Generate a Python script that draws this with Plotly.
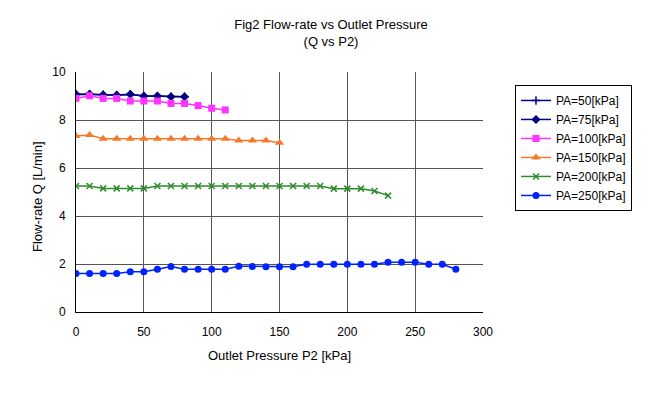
import plotly.graph_objects as go

# ---- data ----
x_pa50 = [0, 10, 20, 30, 40, 50, 60, 70, 80]
q_pa50 = [9.06, 9.07, 9.05, 9.03, 9.06, 9.0, 8.99, 8.97, 8.97]

x_pa75 = [0, 10, 20, 30, 40, 50, 60, 70, 80]
q_pa75 = [9.07, 9.08, 9.05, 9.04, 9.07, 9.0, 9.0, 8.97, 8.97]

x_pa100 = [0, 10, 20, 30, 40, 50, 60, 70, 80, 90, 100, 110]
q_pa100 = [8.9, 9.01, 8.9, 8.9, 8.79, 8.79, 8.79, 8.69, 8.69, 8.6, 8.49, 8.42]

x_pa150 = [0, 10, 20, 30, 40, 50, 60, 70, 80, 90, 100, 110, 120, 130, 140, 150]
q_pa150 = [7.33, 7.37, 7.22, 7.22, 7.22, 7.22, 7.22, 7.22, 7.22, 7.22, 7.22, 7.22,
           7.15, 7.15, 7.15, 7.05]

x_pa200 = [0, 10, 20, 30, 40, 50, 60, 70, 80, 90, 100, 110, 120, 130, 140, 150,
           160, 170, 180, 190, 200, 210, 220, 230]
q_pa200 = [5.25, 5.25, 5.15, 5.15, 5.15, 5.15, 5.25, 5.25, 5.25, 5.25, 5.25, 5.25,
           5.25, 5.25, 5.25, 5.25, 5.25, 5.25, 5.25, 5.14, 5.14, 5.14, 5.04, 4.85]

x_pa250 = [0, 10, 20, 30, 40, 50, 60, 70, 80, 90, 100, 110, 120, 130, 140, 150,
           160, 170, 180, 190, 200, 210, 220, 230, 240, 250, 260, 270, 280]
q_pa250 = [1.6, 1.6, 1.6, 1.6, 1.68, 1.68, 1.78, 1.9, 1.78, 1.78, 1.78, 1.78,
           1.91, 1.9, 1.89, 1.89, 1.89, 1.99, 1.99, 1.99, 1.99, 1.99, 1.99,
           2.07, 2.07, 2.07, 1.99, 1.99, 1.78]

x_ticks = [0, 50, 100, 150, 200, 250, 300]
y_ticks = [0, 2, 4, 6, 8, 10]

series = [
    ("PA=50[kPa]", x_pa50, q_pa50, "#000080", "cross-thin", 6),
    ("PA=75[kPa]", x_pa75, q_pa75, "#000080", "diamond", 7),
    ("PA=100[kPa]", x_pa100, q_pa100, "#FF33FF", "square", 7),
    ("PA=150[kPa]", x_pa150, q_pa150, "#F47A2A", "triangle-up", 8),
    ("PA=200[kPa]", x_pa200, q_pa200, "#2E8B2E", "x-thin", 6),
    ("PA=250[kPa]", x_pa250, q_pa250, "#0022FF", "circle", 7),
]

fig = go.Figure()
for name, xs, ys, col, sym, sz in series:
    fig.add_trace(go.Scatter(
        x=xs, y=ys, name=name, mode="lines+markers",
        line=dict(color=col, width=1.5),
        marker=dict(symbol=sym, size=sz, color=col,
                    line=dict(color=col, width=1.5 if "thin" in sym else 0)),
    ))

font_family = "Liberation Sans, Arial, sans-serif"
fig.update_layout(
    width=646, height=387,
    margin=dict(l=68, r=171, t=64, b=83),
    paper_bgcolor="white", plot_bgcolor="white",
    font=dict(family=font_family, size=12, color="black"),
    showlegend=True,
    title=dict(
        text="Fig2 Flow-rate vs Outlet Pressure<br>(Q vs P2)",
        x=0.5, xref="container", xanchor="center",
        y=1 - 21 / 387, yref="container", yanchor="middle",
        font=dict(size=13), pad=dict(t=0, b=0, l=0, r=0),
    ),
    legend=dict(
        x=1.0786, y=0.946, xanchor="left", yanchor="top",
        bordercolor="black", borderwidth=1, bgcolor="white",
        font=dict(size=12), itemwidth=30, tracegroupgap=0,
    ),
    xaxis=dict(
        range=[0, 300], tickvals=x_ticks, showgrid=True, gridcolor="#555555",
        gridwidth=1, showline=True, linecolor="black", linewidth=1,
        zeroline=False, ticks="", tickfont=dict(size=12), ticklabelstandoff=9,
    ),
    yaxis=dict(
        range=[0, 10], tickvals=y_ticks, showgrid=True, gridcolor="#555555",
        gridwidth=1, showline=True, linecolor="black", linewidth=1,
        zeroline=False, ticks="", tickfont=dict(size=12), ticklabelstandoff=7,
    ),
    annotations=[
        dict(text="Outlet Pressure P2 [kPa]", x=0.5, y=0, xref="paper",
             yref="paper", xanchor="center", yanchor="middle", yshift=-43,
             showarrow=False, font=dict(size=13)),
        dict(text="Flow-rate Q [L/min]", x=0, y=0.5, xref="paper",
             yref="paper", xanchor="center", yanchor="middle", xshift=-39,
             yshift=-5, textangle=-90, showarrow=False, font=dict(size=13)),
    ],
)

fig.write_html("out.html")
